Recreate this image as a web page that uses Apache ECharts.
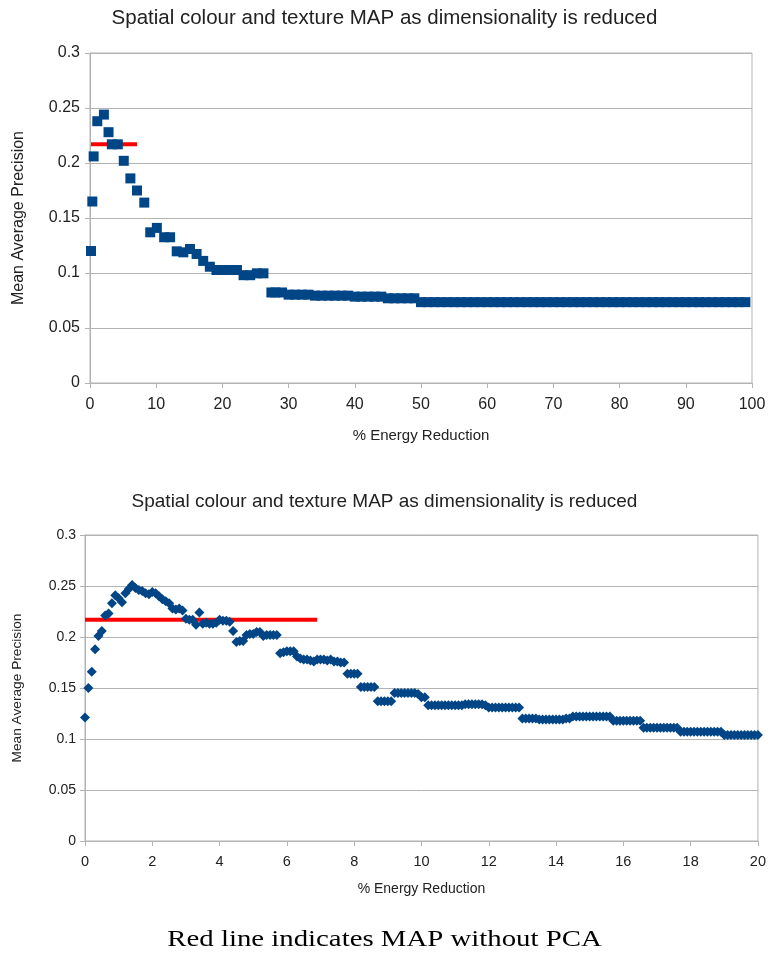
<!DOCTYPE html>
<html><head><meta charset="utf-8">
<script src="https://cdn.jsdelivr.net/npm/echarts@6/dist/echarts.min.js"></script>
<style>html,body{margin:0;padding:0;background:#fff}#c{width:769px;height:956px}</style>
</head><body><div id="c"></div>
<script>
const chartTitle = "Spatial colour and texture MAP as dimensionality is reduced";
const xName = "% Energy Reduction";
const yName = "Mean Average Precision";
const caption = "Red line indicates MAP without PCA";

const topX = [0.15,0.35,0.55,1.1,2.1,2.8,3.3,4.2,5.1,6.1,7.1,8.2,9.1,10.1,11.2,12.1,13.1,14.1,15.1,16.1,17.1,18.1,19.1,20.1,21.1,22.2,23.2,24.2,25.2,26.2,
  27.4,28,29,30,31,32,33,34,35,36,37,38,39,40,41,42,43,44,45,46,47,48,49,50,
  51,52,53,54,55,56,57,58,59,60,61,62,63,64,65,66,67,68,69,70,71,72,73,74,75,
  76,77,78,79,80,81,82,83,84,85,86,87,88,89,90,91,92,93,94,95,96,97,98,99];
const topY = [0.120,0.165,0.206,0.238,0.244,0.228,0.217,0.217,0.202,0.186,0.175,0.164,0.137,0.141,0.1325,0.1325,0.1197,0.1188,0.1218,0.1173,0.111,0.1057,0.1027,0.1027,0.1027,0.1027,0.098,0.098,0.0997,0.0997,
  0.0823,0.0823,0.0823,0.0803,0.0803,0.0803,0.0803,0.0794,0.0794,0.0794,0.0794,0.0794,0.0794,0.0785,0.0785,0.0785,0.0785,0.0785,0.077,0.077,0.077,0.077,0.077,0.0735,
  0.0735,0.0735,0.0735,0.0735,0.0735,0.0735,0.0735,0.0735,0.0735,0.0735,0.0735,0.0735,0.0735,0.0735,0.0735,0.0735,0.0735,0.0735,0.0735,0.0735,0.0735,0.0735,0.0735,0.0735,0.0735,
  0.0735,0.0735,0.0735,0.0735,0.0735,0.0735,0.0735,0.0735,0.0735,0.0735,0.0735,0.0735,0.0735,0.0735,0.0735,0.0735,0.0735,0.0735,0.0735,0.0735,0.0735,0.0735,0.0735,0.0735];

const bottomX = [
 0.0,0.1,0.2,0.3,0.4,0.5,0.6,0.7,0.8,0.9, 1.0,1.1,1.2,1.3,1.4,1.5,1.6,1.7,1.8,1.9,
 2.0,2.1,2.2,2.3,2.4,2.5,2.6,2.7,2.8,2.9, 3.0,3.1,3.2,3.3,3.4,3.5,3.6,3.7,3.8,3.9,
 4.0,4.1,4.2,4.3,4.4,4.5,4.6,4.7,4.8,4.9, 5.0,5.1,5.2,5.3,5.4,5.5,5.6,5.7,5.8,5.9,
 6.0,6.1,6.2,6.3,6.4,6.5,6.6,6.7,6.8,6.9, 7.0,7.1,7.2,7.3,7.4,7.5,7.6,7.7,7.8,7.9,
 8.0,8.1,8.2,8.3,8.4,8.5,8.6,8.7,8.8,8.9, 9.0,9.1,9.2,9.3,9.4,9.5,9.6,9.7,9.8,9.9,
 10.0,10.1,10.2,10.3,10.4,10.5,10.6,10.7,10.8,10.9, 11.0,11.1,11.2,11.3,11.4,11.5,11.6,11.7,11.8,11.9,
 12.0,12.1,12.2,12.3,12.4,12.5,12.6,12.7,12.8,12.9, 13.0,13.1,13.2,13.3,13.4,13.5,13.6,13.7,13.8,13.9,
 14.0,14.1,14.2,14.3,14.4,14.5,14.6,14.7,14.8,14.9, 15.0,15.1,15.2,15.3,15.4,15.5,15.6,15.7,15.8,15.9,
 16.0,16.1,16.2,16.3,16.4,16.5,16.6,16.7,16.8,16.9, 17.0,17.1,17.2,17.3,17.4,17.5,17.6,17.7,17.8,17.9,
 18.0,18.1,18.2,18.3,18.4,18.5,18.6,18.7,18.8,18.9, 19.0,19.1,19.2,19.3,19.4,19.5,19.6,19.7,19.8,19.9,20.0];
const bottomY = [
 0.121,0.150,0.166,0.188,0.201,0.206,0.221,0.223,0.233,0.241,
 0.238,0.234,0.243,0.247,0.251,0.248,0.246,0.245,0.243,0.242,
 0.244,0.243,0.240,0.237,0.235,0.233,0.228,0.227,0.228,0.226,
 0.218,0.217,0.217,0.212,0.224,0.213,0.214,0.213,0.213,0.214,
 0.217,0.216,0.216,0.215,0.206,0.195,0.196,0.196,0.202,0.203,
 0.203,0.205,0.205,0.201,0.202,0.202,0.202,0.202,0.184,0.185,
 0.186,0.186,0.186,0.181,0.179,0.178,0.178,0.177,0.176,0.178,
 0.178,0.178,0.177,0.178,0.176,0.176,0.175,0.175,0.164,0.164,
 0.164,0.164,0.151,0.151,0.151,0.151,0.151,0.137,0.137,0.137,
 0.137,0.137,0.145,0.145,0.145,0.145,0.145,0.145,0.145,0.144,
 0.141,0.141,0.133,0.133,0.133,0.133,0.133,0.133,0.133,0.133,
 0.133,0.133,0.133,0.134,0.134,0.134,0.134,0.134,0.134,0.133,
 0.131,0.131,0.131,0.131,0.131,0.131,0.131,0.131,0.131,0.131,
 0.120,0.120,0.120,0.120,0.120,0.119,0.119,0.119,0.119,0.119,
 0.119,0.119,0.119,0.120,0.120,0.122,0.122,0.122,0.122,0.122,
 0.122,0.122,0.122,0.122,0.122,0.122,0.122,0.118,0.118,0.118,
 0.118,0.118,0.118,0.118,0.118,0.118,0.111,0.111,0.111,0.111,
 0.111,0.111,0.111,0.111,0.111,0.111,0.111,0.107,0.107,0.107,
 0.107,0.107,0.107,0.107,0.107,0.107,0.107,0.107,0.107,0.107,
 0.104,0.104,0.104,0.104,0.104,0.104,0.104,0.104,0.104,0.104,0.104];

const redTopX = [0.15, 7.1];
const redBottomX = [0, 6.9];
const mapWithoutPCA = 0.217;

const zip = (xs, ys) => xs.map((x, i) => [x, ys[i]]);
const FONT = "Liberation Sans";
const gridCol = "#b3b3b3";
const txt = "#222";

function xAxis(gi, max, interval, fs, nfs, margin, gap) {
  return {
    type: 'value', gridIndex: gi, min: 0, max: max, interval: interval,
    name: xName, nameLocation: 'middle', nameGap: gap,
    nameTextStyle: {fontFamily: FONT, fontSize: nfs, color: txt},
    axisLine: {show: true, lineStyle: {color: gridCol}},
    axisTick: {show: true, length: 5, lineStyle: {color: gridCol}},
    axisLabel: {fontFamily: FONT, fontSize: fs, color: txt, margin: margin},
    splitLine: {show: false}
  };
}
function yAxis(gi, fs, nfs, margin, gap) {
  return {
    type: 'value', gridIndex: gi, min: 0, max: 0.3, interval: 0.05,
    name: yName, nameLocation: 'middle', nameGap: gap, nameRotate: 90,
    nameTextStyle: {fontFamily: FONT, fontSize: nfs, color: txt},
    axisLine: {show: true, lineStyle: {color: gridCol}},
    axisTick: {show: true, length: 5, lineStyle: {color: gridCol}},
    axisLabel: {fontFamily: FONT, fontSize: fs, color: txt, margin: margin},
    splitLine: {show: true, lineStyle: {color: gridCol, width: 1}}
  };
}

const chart = echarts.init(document.getElementById('c'), null, {renderer: 'canvas'});
chart.setOption({
  animation: false,
  backgroundColor: '#fff',
  title: [
    {text: chartTitle, left: 'center', top: 3, textStyle: {fontFamily: FONT, fontSize: 20.5, fontWeight: 'normal', color: txt}},
    {text: chartTitle, left: 'center', top: 487, textStyle: {fontFamily: FONT, fontSize: 19, fontWeight: 'normal', color: txt}}
  ],
  grid: [
    {left: 90, right: 17, top: 53, height: 330, show: true, borderColor: gridCol, borderWidth: 1, backgroundColor: 'transparent'},
    {left: 85, right: 10, top: 535, height: 306, show: true, borderColor: gridCol, borderWidth: 1, backgroundColor: 'transparent'}
  ],
  xAxis: [xAxis(0, 100, 10, 16, 15, 14, 45), xAxis(1, 20, 2, 14.5, 14, 13, 41)],
  yAxis: [yAxis(0, 16, 16, 10, 63), yAxis(1, 14, 13.7, 9, 61)],
  graphic: [{
    type: 'text', left: 'center', top: 928,
    style: {text: caption, fontFamily: "Liberation Serif", fontSize: 24, fill: '#000'},
    scaleX: 1.2, originX: 0
  }],
  series: [
    {type: 'line', xAxisIndex: 0, yAxisIndex: 0, data: zip(redTopX, [mapWithoutPCA, mapWithoutPCA]),
     symbol: 'none', lineStyle: {color: '#ff0000', width: 4, cap: 'butt'}, z: 1},
    {type: 'scatter', xAxisIndex: 0, yAxisIndex: 0, data: zip(topX, topY),
     symbol: 'rect', symbolSize: 10, itemStyle: {color: '#004586', opacity: 1}, z: 2},
    {type: 'line', xAxisIndex: 1, yAxisIndex: 1, data: zip(redBottomX, [mapWithoutPCA, mapWithoutPCA]),
     symbol: 'none', lineStyle: {color: '#ff0000', width: 4, cap: 'butt'}, z: 1},
    {type: 'scatter', xAxisIndex: 1, yAxisIndex: 1, data: zip(bottomX, bottomY),
     symbol: 'diamond', symbolSize: 10, itemStyle: {color: '#004586', opacity: 1}, z: 2}
  ]
});
</script></body></html>
